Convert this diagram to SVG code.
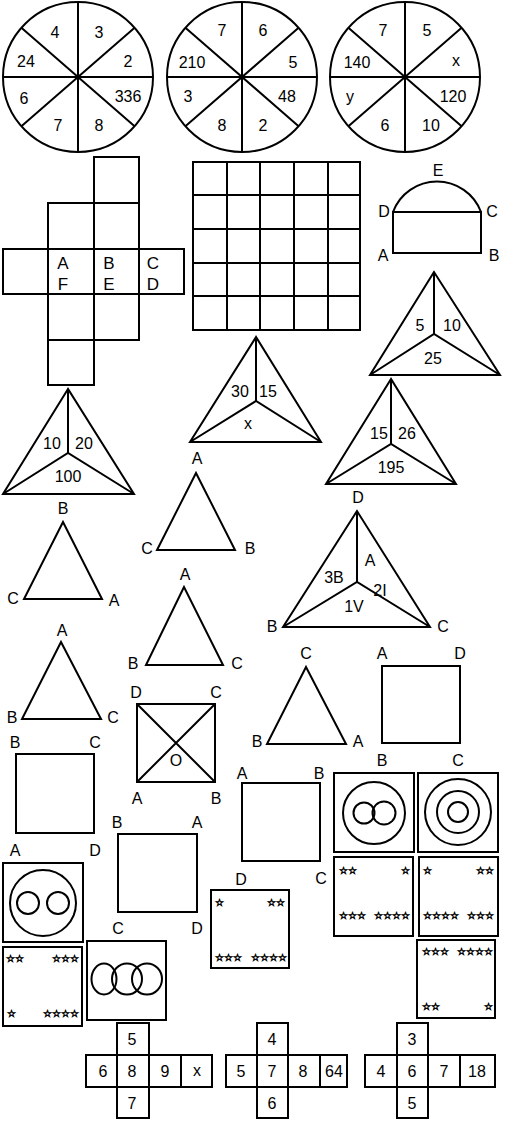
<svg xmlns="http://www.w3.org/2000/svg" width="508" height="1121" viewBox="0 0 508 1121">
<style>
.s{fill:none;stroke:#000;stroke-width:2}
.t{font-family:"Liberation Sans",Arial,sans-serif;font-size:16px;fill:#000;text-anchor:middle}
.l{font-size:17px}
.st{font-family:"DejaVu Sans",sans-serif;font-size:10px;fill:#000;stroke:#000;stroke-width:0.7}
</style>
<rect width="508" height="1121" fill="#fff"/>

<g id="wheel1">
<circle class="s" cx="78" cy="77" r="75"/>
<path class="s" d="M78,2V152M3,77H153M21.4,27.8L134.6,126.2M21.4,126.2L134.6,27.8"/>
<circle cx="78" cy="77" r="2.5"/>
<text class="t" x="55" y="38">4</text><text class="t" x="99" y="38">3</text>
<text class="t" x="26" y="67">24</text><text class="t" x="128" y="67">2</text>
<text class="t" x="24" y="104">6</text><text class="t" x="128" y="102">336</text>
<text class="t" x="58" y="131">7</text><text class="t" x="99" y="131">8</text>
</g>
<g id="wheel2">
<circle class="s" cx="242" cy="77" r="75"/>
<path class="s" d="M242,2V152M167,77H317M185.4,27.8L298.6,126.2M185.4,126.2L298.6,27.8"/>
<circle cx="242" cy="77" r="2.5"/>
<text class="t" x="222" y="36">7</text><text class="t" x="263" y="36">6</text>
<text class="t" x="192" y="68">210</text><text class="t" x="293" y="68">5</text>
<text class="t" x="188" y="102">3</text><text class="t" x="287" y="102">48</text>
<text class="t" x="222" y="131">8</text><text class="t" x="263" y="131">2</text>
</g>
<g id="wheel3">
<circle class="s" cx="405" cy="77" r="75"/>
<path class="s" d="M405,2V152M330,77H480M348.4,27.8L461.6,126.2M348.4,126.2L461.6,27.8"/>
<circle cx="405" cy="77" r="2.5"/>
<text class="t" x="383" y="36">7</text><text class="t" x="427" y="36">5</text>
<text class="t" x="357" y="68">140</text><text class="t" x="456" y="66">x</text>
<text class="t" x="350" y="102">y</text><text class="t" x="453" y="102">120</text>
<text class="t" x="385" y="131">6</text><text class="t" x="431" y="131">10</text>
</g>

<g id="net">
<rect class="s" x="94" y="157" width="45" height="46"/>
<rect class="s" x="94" y="203" width="45" height="46"/>
<rect class="s" x="48" y="203" width="46" height="46"/>
<rect class="s" x="3" y="249" width="45" height="45"/>
<rect class="s" x="48" y="249" width="46" height="45"/>
<rect class="s" x="94" y="249" width="45" height="45"/>
<rect class="s" x="139" y="249" width="45" height="45"/>
<rect class="s" x="48" y="294" width="46" height="46"/>
<rect class="s" x="94" y="294" width="45" height="46"/>
<rect class="s" x="48" y="340" width="46" height="45"/>
<text class="t l" x="63" y="269">A</text><text class="t l" x="63" y="290">F</text>
<text class="t l" x="109" y="269">B</text><text class="t l" x="109" y="290">E</text>
<text class="t l" x="153" y="269">C</text><text class="t l" x="153" y="290">D</text>
</g>

<g id="grid">
<rect class="s" x="193" y="162" width="167" height="168"/>
<path class="s" d="M227,162V330M260,162V330M294,162V330M328,162V330M193,195H360M193,229H360M193,263H360M193,296H360"/>
</g>

<g id="arch">
<rect class="s" x="393" y="212" width="88" height="41"/>
<path class="s" d="M393,212A47,47 0 0 1 481,212"/>
<text class="t" x="438" y="176">E</text>
<text class="t" x="384" y="217">D</text><text class="t" x="492" y="217">C</text>
<text class="t" x="383" y="261">A</text><text class="t" x="494" y="261">B</text>
</g>

<g id="tri25">
<path class="s" d="M434,272L370,375H500Z M434,272V334M370,375L434,334L500,375"/>
<text class="t" x="420" y="331">5</text><text class="t" x="452" y="331">10</text><text class="t" x="433" y="364">25</text>
</g>
<g id="trix">
<path class="s" d="M256,337L190,442H321Z M256,337V401M190,442L256,401L321,442"/>
<text class="t" x="240" y="397">30</text><text class="t" x="268" y="397">15</text><text class="t" x="248" y="429">x</text>
</g>
<g id="tri100">
<path class="s" d="M68,389L3,494H134Z M68,389V453M3,494L68,453L134,494"/>
<text class="t" x="52" y="449">10</text><text class="t" x="84" y="449">20</text><text class="t" x="68" y="482">100</text>
</g>
<g id="tri195">
<path class="s" d="M391,379L326,484H456Z M391,379V444M326,484L391,444L456,484"/>
<text class="t" x="379" y="439">15</text><text class="t" x="407" y="439">26</text><text class="t" x="391" y="473">195</text>
</g>
<g id="triDBC">
<path class="s" d="M357,511L283,627H430Z M357,511V582M283,627L357,582L430,627"/>
<text class="t" x="358" y="503">D</text><text class="t" x="272" y="632">B</text><text class="t" x="443" y="632">C</text>
<text class="t" x="370" y="566">A</text><text class="t" x="380" y="596">2I</text>
<text class="t" x="334" y="583">3B</text><text class="t" x="354" y="612">1V</text>
</g>

<g id="triACB">
<path class="s" d="M196,473L157,550H235Z"/>
<text class="t" x="197" y="464">A</text><text class="t" x="147" y="554">C</text><text class="t" x="250" y="554">B</text>
</g>
<g id="triBCA">
<path class="s" d="M63,522L24,599H102Z"/>
<text class="t" x="63" y="514">B</text><text class="t" x="13" y="604">C</text><text class="t" x="114" y="606">A</text>
</g>
<g id="triABC1">
<path class="s" d="M184,587L146,665H223Z"/>
<text class="t" x="185" y="580">A</text><text class="t" x="133" y="669">B</text><text class="t" x="237" y="669">C</text>
</g>
<g id="triABC2">
<path class="s" d="M61,642L22,719H101Z"/>
<text class="t" x="62" y="636">A</text><text class="t" x="12" y="723">B</text><text class="t" x="113" y="723">C</text>
</g>
<g id="triCBA">
<path class="s" d="M306,667L267,744H346Z"/>
<text class="t" x="306" y="659">C</text><text class="t" x="257" y="747">B</text><text class="t" x="358" y="747">A</text>
</g>

<g id="sqO">
<rect class="s" x="137" y="704" width="78" height="78"/>
<path class="s" d="M137,704L215,782M137,782L215,704"/>
<text class="t" x="136" y="698">D</text><text class="t" x="216" y="698">C</text>
<text class="t" x="137" y="804">A</text><text class="t" x="216" y="804">B</text>
<text class="t" x="176" y="766">O</text>
</g>
<g id="sqBC">
<rect class="s" x="16" y="754" width="78" height="79"/>
<text class="t" x="15" y="748">B</text><text class="t" x="95" y="748">C</text>
</g>
<g id="sqAD">
<rect class="s" x="382" y="666" width="78" height="77"/>
<text class="t" x="382" y="659">A</text><text class="t" x="460" y="659">D</text>
</g>
<g id="sqAB">
<rect class="s" x="242" y="783" width="78" height="78"/>
<text class="t" x="242" y="779">A</text><text class="t" x="319" y="779">B</text>
</g>
<g id="sqBA">
<rect class="s" x="118" y="834" width="79" height="78"/>
<text class="t" x="117" y="828">B</text><text class="t" x="197" y="828">A</text><text class="t" x="197" y="934">D</text>
</g>

<g id="boxB">
<rect class="s" x="334" y="773" width="80" height="79"/>
<circle class="s" cx="374" cy="813" r="31"/>
<circle class="s" cx="364" cy="813" r="10.5"/>
<circle class="s" cx="384" cy="813" r="11.5"/>
<text class="t" x="382" y="766">B</text>
</g>
<g id="boxC">
<rect class="s" x="418" y="773" width="80" height="79"/>
<circle class="s" cx="458" cy="812" r="33"/>
<circle class="s" cx="458" cy="812" r="21"/>
<circle class="s" cx="458" cy="812" r="10"/>
<text class="t" x="458" y="766">C</text>
</g>
<g id="boxA">
<rect class="s" x="3" y="863" width="80" height="79"/>
<circle class="s" cx="43" cy="903" r="33"/>
<circle class="s" cx="28" cy="903" r="11"/>
<circle class="s" cx="58" cy="903" r="11"/>
<text class="t" x="15" y="856">A</text><text class="t" x="95" y="856">D</text>
</g>
<g id="boxC3">
<rect class="s" x="87" y="941" width="79" height="79"/>
<ellipse class="s" cx="104" cy="979" rx="12.5" ry="15.5"/>
<ellipse class="s" cx="127" cy="979" rx="15" ry="15.5"/>
<ellipse class="s" cx="147" cy="979" rx="15" ry="15.5"/>
<text class="t" x="118" y="934">C</text>
</g>

<g id="starsC">
<rect class="s" x="334" y="857" width="79" height="79"/>
<text class="t" x="321" y="884">C</text>
<text class="st" x="339" y="874">☆☆</text>
<text class="st" x="401" y="874">☆</text>
<text class="st" x="339" y="919">☆☆☆</text>
<text class="st" x="374" y="919">☆☆☆☆</text>
</g>
<g id="starsR1">
<rect class="s" x="419" y="857" width="79" height="79"/>
<text class="st" x="423" y="874">☆</text>
<text class="st" x="476" y="874">☆☆</text>
<text class="st" x="423" y="919">☆☆☆☆</text>
<text class="st" x="467" y="919">☆☆☆</text>
</g>
<g id="starsD">
<rect class="s" x="211" y="890" width="78" height="78"/>
<text class="t" x="241" y="885">D</text>
<text class="st" x="215" y="906">☆</text>
<text class="st" x="267" y="906">☆☆</text>
<text class="st" x="215" y="961">☆☆☆</text>
<text class="st" x="251" y="961">☆☆☆☆</text>
</g>
<g id="starsR2">
<rect class="s" x="417" y="940" width="78" height="78"/>
<text class="st" x="422" y="955">☆☆☆</text>
<text class="st" x="457" y="955">☆☆☆☆</text>
<text class="st" x="422" y="1010">☆☆</text>
<text class="st" x="484" y="1010">☆</text>
</g>
<g id="starsL">
<rect class="s" x="3" y="947" width="79" height="79"/>
<text class="st" x="6" y="962">☆☆</text>
<text class="st" x="52" y="962">☆☆☆</text>
<text class="st" x="7" y="1017">☆</text>
<text class="st" x="43" y="1017">☆☆☆☆</text>
</g>

<g id="cross1">
<rect class="s" x="117" y="1023" width="32" height="32"/>
<rect class="s" x="86" y="1055" width="31" height="32"/>
<rect class="s" x="117" y="1055" width="32" height="32"/>
<rect class="s" x="149" y="1055" width="32" height="32"/>
<rect class="s" x="181" y="1055" width="31" height="32"/>
<rect class="s" x="117" y="1087" width="32" height="31"/>
<text class="t" x="132" y="1045">5</text>
<text class="t" x="103" y="1077">6</text><text class="t" x="132" y="1077">8</text><text class="t" x="165" y="1077">9</text><text class="t" x="197" y="1076">x</text>
<text class="t" x="132" y="1109">7</text>
</g>
<g id="cross2">
<rect class="s" x="257" y="1023" width="31" height="32"/>
<rect class="s" x="226" y="1055" width="31" height="32"/>
<rect class="s" x="257" y="1055" width="31" height="32"/>
<rect class="s" x="288" y="1055" width="32" height="32"/>
<rect class="s" x="320" y="1055" width="27" height="32"/>
<rect class="s" x="257" y="1087" width="31" height="31"/>
<text class="t" x="272" y="1045">4</text>
<text class="t" x="241" y="1077">5</text><text class="t" x="272" y="1077">7</text><text class="t" x="303" y="1077">8</text><text class="t" x="334" y="1077">64</text>
<text class="t" x="272" y="1109">6</text>
</g>
<g id="cross3">
<rect class="s" x="397" y="1023" width="31" height="32"/>
<rect class="s" x="365" y="1055" width="32" height="32"/>
<rect class="s" x="397" y="1055" width="31" height="32"/>
<rect class="s" x="428" y="1055" width="32" height="32"/>
<rect class="s" x="460" y="1055" width="35" height="32"/>
<rect class="s" x="397" y="1087" width="31" height="31"/>
<text class="t" x="412" y="1045">3</text>
<text class="t" x="381" y="1077">4</text><text class="t" x="412" y="1077">6</text><text class="t" x="444" y="1077">7</text><text class="t" x="477" y="1077">18</text>
<text class="t" x="412" y="1109">5</text>
</g>
<g id="connectors"></g>
</svg>
